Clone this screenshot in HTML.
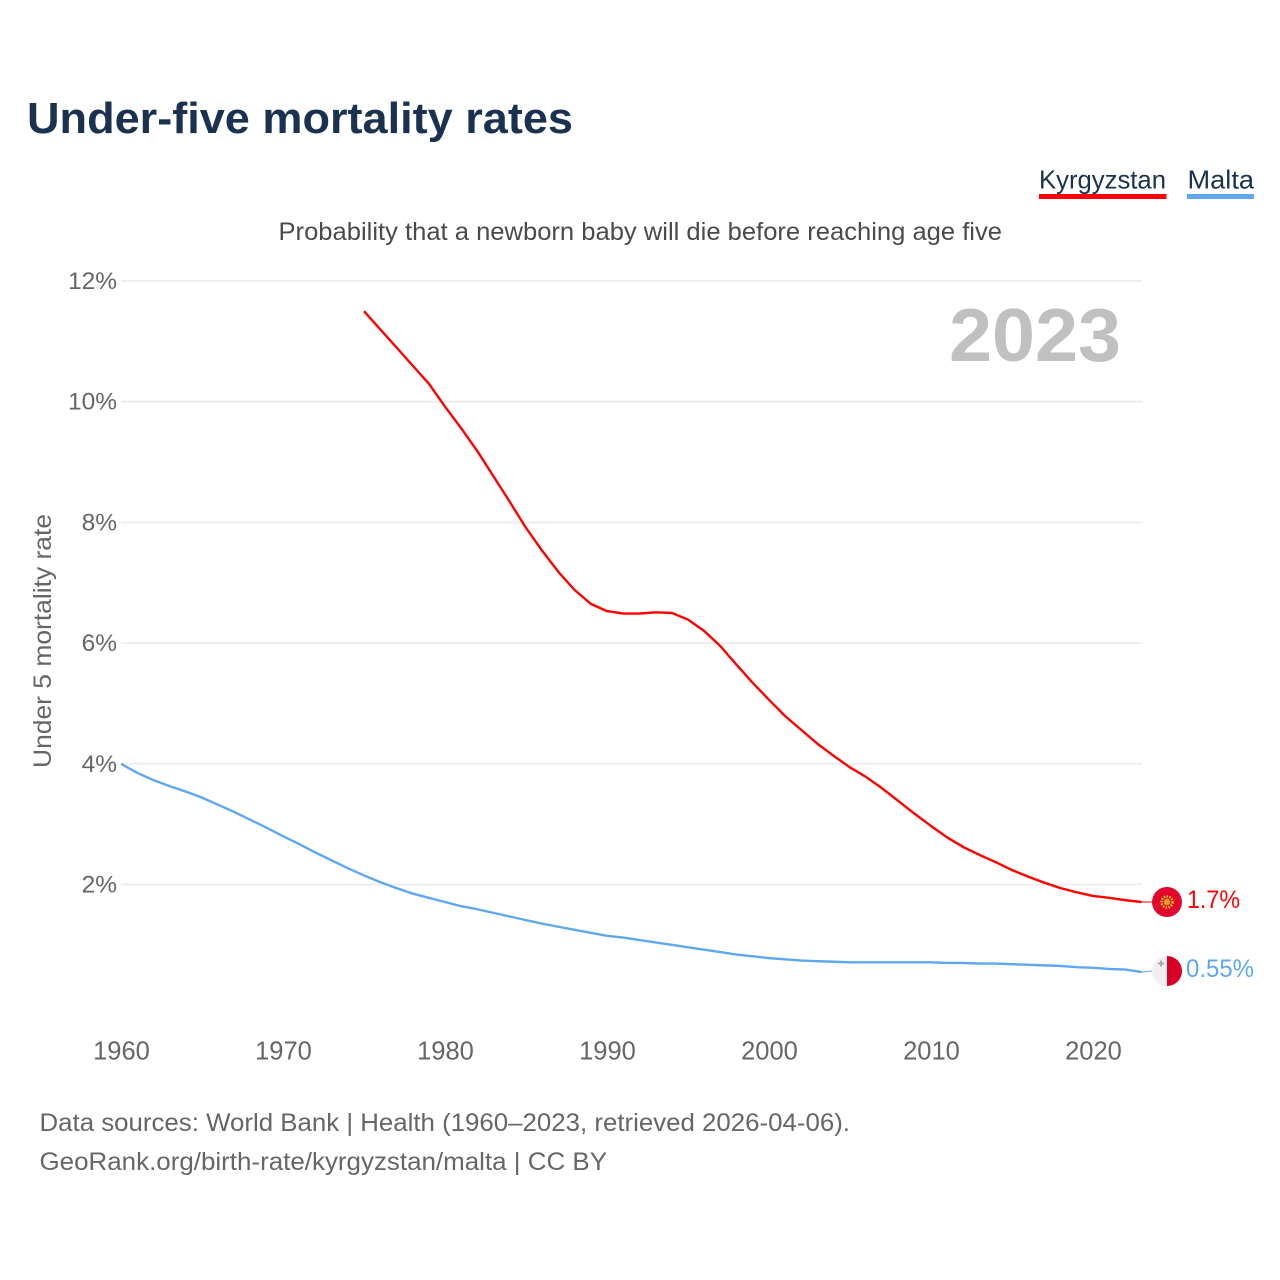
<!DOCTYPE html>
<html lang="en">
<head>
<meta charset="utf-8">
<title>Under-five mortality rates</title>
<style>
html,body{margin:0;padding:0;background:#fff;width:1280px;height:1280px;overflow:hidden}
svg{display:block;font-family:"Liberation Sans",sans-serif}
</style>
</head>
<body>
<svg id="chart" width="1280" height="1280" viewBox="0 0 1280 1280">
  <text x="27" y="133" font-size="44" font-weight="700" fill="#1a3150" textLength="546" lengthAdjust="spacingAndGlyphs">Under-five mortality rates</text>

  <g>
    <text x="1039" y="188.500" font-size="26" fill="#1a3150" textLength="127" lengthAdjust="spacingAndGlyphs">Kyrgyzstan</text>
    <rect x="1039" y="194" width="127.500" height="5" fill="#ff0000"></rect>
  </g>
  <g>
    <text x="1187.500" y="188.500" font-size="26" fill="#1a3150" textLength="66.500" lengthAdjust="spacingAndGlyphs">Malta</text>
    <rect x="1187" y="194" width="67" height="5" fill="#5fa8ee"></rect>
  </g>

  <text x="278.500" y="240" font-size="25" fill="#4a4a4a" textLength="723.500" lengthAdjust="spacingAndGlyphs">Probability that a newborn baby will die before reaching age five</text>

  <g id="grid"></g>
  <g id="yticks"></g>
  <g id="xticks"></g>

  <text transform="translate(51,641) rotate(-90)" text-anchor="middle" font-size="25" fill="#666666" textLength="254" lengthAdjust="spacingAndGlyphs">Under 5 mortality rate</text>

  <text x="949" y="361" font-size="75" font-weight="700" fill="#c0c0c0" textLength="172" lengthAdjust="spacingAndGlyphs">2023</text>

  <g id="series"></g>

  <g>
    <circle cx="1167" cy="902" r="15" fill="#e0062d"></circle>
    <circle cx="1167" cy="902" r="5.500" fill="none" stroke="#f5c518" stroke-width="2.600" stroke-dasharray="1.600 1.200"></circle>
    <circle cx="1167" cy="902" r="3.200" fill="#e9a020"></circle>
  </g>
  <g>
    <path d="M1167 956a15 15 0 0 0 0 30z" fill="#f0f0f0"></path>
    <path d="M1167 956a15 15 0 0 1 0 30z" fill="#d80027"></path>
    <path d="M1160 960.500h2v2h2v2h-2v2h-2v-2h-2v-2h2z" fill="#a9a9a9"></path>
  </g>

  <text x="1187" y="908" font-size="25" fill="#ff0000" textLength="53" lengthAdjust="spacingAndGlyphs">1.7%</text>
  <text x="1186" y="977" font-size="25" fill="#5fa8ee" textLength="68" lengthAdjust="spacingAndGlyphs">0.55%</text>

  <text x="39.500" y="1131" font-size="25" fill="#666666" textLength="810.500" lengthAdjust="spacingAndGlyphs">Data sources: World Bank | Health (1960–2023, retrieved 2026-04-06).</text>
  <text x="39.500" y="1170" font-size="25" fill="#666666" textLength="567.500" lengthAdjust="spacingAndGlyphs">GeoRank.org/birth-rate/kyrgyzstan/malta | CC BY</text>
</svg>
<script>
var yTickValues = [2, 4, 6, 8, 10, 12];
var xTickYears = [1960, 1970, 1980, 1990, 2000, 2010, 2020];
var kyrgyzstanStartYear = 1975;
var kyrgyzstanValues = [11.5, 11.2, 10.9, 10.6, 10.3, 9.92, 9.56, 9.18, 8.76, 8.34, 7.91, 7.53, 7.18, 6.88, 6.65, 6.53, 6.49, 6.49, 6.51, 6.5, 6.39, 6.2, 5.95, 5.64, 5.34, 5.06, 4.79, 4.56, 4.33, 4.13, 3.94, 3.78, 3.59, 3.38, 3.17, 2.97, 2.78, 2.62, 2.49, 2.37, 2.24, 2.13, 2.03, 1.94, 1.87, 1.81, 1.78, 1.74, 1.71];
var maltaStartYear = 1960;
var maltaValues = [4.0, 3.85, 3.73, 3.63, 3.54, 3.44, 3.32, 3.2, 3.07, 2.94, 2.8, 2.67, 2.53, 2.4, 2.27, 2.15, 2.04, 1.94, 1.85, 1.78, 1.71, 1.64, 1.59, 1.53, 1.47, 1.41, 1.35, 1.3, 1.25, 1.2, 1.15, 1.12, 1.08, 1.04, 1.0, 0.96, 0.92, 0.88, 0.84, 0.81, 0.78, 0.76, 0.74, 0.73, 0.72, 0.71, 0.71, 0.71, 0.71, 0.71, 0.71, 0.7, 0.7, 0.69, 0.69, 0.68, 0.67, 0.66, 0.65, 0.63, 0.62, 0.6, 0.59, 0.55];

var NS = 'http://www.w3.org/2000/svg';
function xScale(year) { return 121 + (year - 1960) * 16.2; }
function yScale(value) { return 1005.2 - value * 60.35; }

var grid = document.getElementById('grid');
var yticks = document.getElementById('yticks');
var xticks = document.getElementById('xticks');
var series = document.getElementById('series');

yTickValues.forEach(function (v) {
  var line = document.createElementNS(NS, 'line');
  
  
  line.setAttribute('x1', xScale(1960));
  line.setAttribute('x2', xScale(2023));
  line.setAttribute('y1', yScale(v));
  line.setAttribute('y2', yScale(v));
  line.setAttribute('stroke', '#eeeeee');
  line.setAttribute('stroke-width', '2');
  grid.appendChild(line);

  var label = document.createElementNS(NS, 'text');
  
  
  label.setAttribute('x', 117);
  label.setAttribute('y', yScale(v) + 8);
  label.setAttribute('text-anchor', 'end');
  label.setAttribute('font-size', '24.5');
  label.setAttribute('fill', '#666666');
  label.textContent = v + '%';
  yticks.appendChild(label);
});

xTickYears.forEach(function (year) {
  var label = document.createElementNS(NS, 'text');
  
  
  label.setAttribute('x', xScale(year) + 0.5);
  label.setAttribute('y', 1059.5);
  label.setAttribute('text-anchor', 'middle');
  label.setAttribute('font-size', '25.5');
  label.setAttribute('fill', '#666666');
  label.textContent = year;
  xticks.appendChild(label);
});

function buildPath(startYear, values) {
  return values.map(function (v, i) {
    return (i ? 'L' : 'M') + xScale(startYear + i).toFixed(2) + ' ' + yScale(v).toFixed(2);
  }).join('');
}

var kyrgyzstanLine = document.createElementNS(NS, 'path');


kyrgyzstanLine.setAttribute('d', buildPath(kyrgyzstanStartYear, kyrgyzstanValues));
kyrgyzstanLine.setAttribute('fill', 'none');
kyrgyzstanLine.setAttribute('stroke', '#ff0000');
kyrgyzstanLine.setAttribute('stroke-width', '2.4');
kyrgyzstanLine.setAttribute('stroke-linejoin', 'round');
series.appendChild(kyrgyzstanLine);

var maltaLine = document.createElementNS(NS, 'path');


maltaLine.setAttribute('d', buildPath(maltaStartYear, maltaValues));
maltaLine.setAttribute('fill', 'none');
maltaLine.setAttribute('stroke', '#5fa8ee');
maltaLine.setAttribute('stroke-width', '2.4');
maltaLine.setAttribute('stroke-linejoin', 'round');
series.appendChild(maltaLine);

var kyrgyzstanLeader = document.createElementNS(NS, 'line');


kyrgyzstanLeader.setAttribute('x1', xScale(2023));
kyrgyzstanLeader.setAttribute('x2', 1152);
kyrgyzstanLeader.setAttribute('y1', yScale(kyrgyzstanValues[kyrgyzstanValues.length - 1]));
kyrgyzstanLeader.setAttribute('y2', 902);
kyrgyzstanLeader.setAttribute('stroke', '#ff0000');
kyrgyzstanLeader.setAttribute('stroke-width', '1');
series.appendChild(kyrgyzstanLeader);

var maltaLeader = document.createElementNS(NS, 'line');


maltaLeader.setAttribute('x1', xScale(2023));
maltaLeader.setAttribute('x2', 1152);
maltaLeader.setAttribute('y1', yScale(maltaValues[maltaValues.length - 1]));
maltaLeader.setAttribute('y2', 971);
maltaLeader.setAttribute('stroke', '#5fa8ee');
maltaLeader.setAttribute('stroke-width', '1');
series.appendChild(maltaLeader);
</script>
</body>
</html>
